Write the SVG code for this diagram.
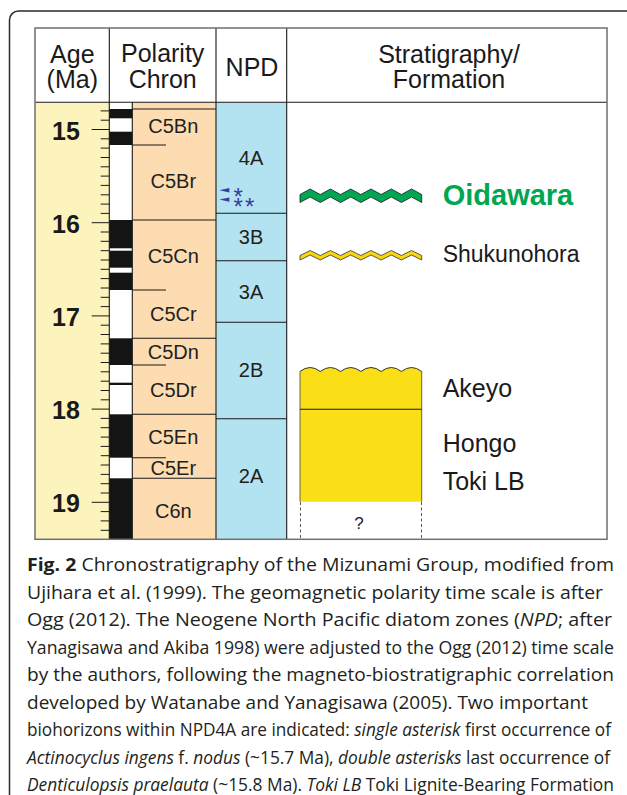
<svg xmlns="http://www.w3.org/2000/svg" width="627" height="795" viewBox="0 0 627 795">
<style>
.hd{font-family:"Liberation Sans",Arial,sans-serif;font-size:25px;fill:#1a1a1a;text-anchor:middle}
.age{font-family:"Liberation Sans",Arial,sans-serif;font-size:25px;font-weight:bold;fill:#1a1a1a;text-anchor:middle}
.lb{font-family:"Liberation Sans",Arial,sans-serif;font-size:20px;fill:#231f20;text-anchor:middle}
.fm{font-family:"Liberation Sans",Arial,sans-serif;font-size:25px;fill:#1a1a1a}
.cap{font-family:"Open Sans","Noto Sans",sans-serif;font-size:18px;fill:#231f20}
.it{font-style:italic}
.ln{stroke:#1a1a1a;stroke-width:1.1;fill:none}
.tk{stroke:#1a1a1a;stroke-width:1}
.blk{fill:#141414}
.ast{font-family:"Liberation Sans",Arial,sans-serif;font-size:24px;fill:#3b3b9e}
</style>
<rect x="9.5" y="11" width="640" height="820" rx="9" fill="none" stroke="#2b2b2b" stroke-width="1.5"/>
<g id="table">
<rect x="35" y="102.3" width="74.3" height="437" fill="#fdf4bd"/>
<rect x="109.3" y="102.3" width="23" height="437" fill="#ffffff"/>
<rect x="132.3" y="102.3" width="83.7" height="437" fill="#fcdcb0"/>
<rect x="216" y="102.3" width="70.7" height="437" fill="#b3e2f1"/>
</g>
<g id="age-scale">
<path class="tk" d="M100.7,110.9H109.3M100.7,120.2H109.3M100.7,138.8H109.3M100.7,148.1H109.3M100.7,157.5H109.3M100.7,166.8H109.3M100.7,176.1H109.3M100.7,185.4H109.3M100.7,194.8H109.3M100.7,204.1H109.3M100.7,213.4H109.3M100.7,232H109.3M100.7,241.3H109.3M100.7,250.7H109.3M100.7,260H109.3M100.7,269.3H109.3M100.7,278.6H109.3M100.7,288H109.3M100.7,297.3H109.3M100.7,306.6H109.3M100.7,325.2H109.3M100.7,334.5H109.3M100.7,343.9H109.3M100.7,353.2H109.3M100.7,362.5H109.3M100.7,371.8H109.3M100.7,381.2H109.3M100.7,390.5H109.3M100.7,399.8H109.3M100.7,418.4H109.3M100.7,427.7H109.3M100.7,437.1H109.3M100.7,446.4H109.3M100.7,455.7H109.3M100.7,465H109.3M100.7,474.4H109.3M100.7,483.7H109.3M100.7,493H109.3M100.7,511.6H109.3M100.7,520.9H109.3M100.7,530.3H109.3"/>
<path class="tk" d="M91.7,129.5H109.3M91.7,222.7H109.3M91.7,315.9H109.3M91.7,409.1H109.3M91.7,502.3H109.3"/>
<text class="age" x="66" y="140">15</text>
<text class="age" x="66" y="233">16</text>
<text class="age" x="66" y="326">17</text>
<text class="age" x="66" y="419">18</text>
<text class="age" x="66" y="512">19</text>
</g>
<g id="polarity">
<rect class="blk" x="109.3" y="109" width="23" height="9.3"/>
<rect class="blk" x="109.3" y="131.7" width="23" height="13.3"/>
<rect class="blk" x="109.3" y="220" width="23" height="28.3"/>
<rect class="blk" x="109.3" y="250.7" width="23" height="17"/>
<rect class="blk" x="109.3" y="272.7" width="23" height="17.3"/>
<rect class="blk" x="109.3" y="338.3" width="23" height="26.7"/>
<rect class="blk" x="109.3" y="382.7" width="23" height="2.3"/>
<rect class="blk" x="109.3" y="414.3" width="23" height="43.4"/>
<rect class="blk" x="109.3" y="478.3" width="23" height="61"/>
<path class="ln" d="M132.3,109H216M132.3,220H216M132.3,338.3H216M132.3,414.3H216M132.3,478.3H216M132.3,145H166M132.3,290H166M132.3,365H166M132.3,457.7H166"/>
<text class="lb" x="173.3" y="132.7">C5Bn</text>
<text class="lb" x="173.3" y="188.3">C5Br</text>
<text class="lb" x="173.3" y="263.3">C5Cn</text>
<text class="lb" x="173.3" y="320.7">C5Cr</text>
<text class="lb" x="173.3" y="358.7">C5Dn</text>
<text class="lb" x="173.3" y="396.7">C5Dr</text>
<text class="lb" x="173.3" y="444.3">C5En</text>
<text class="lb" x="173.3" y="475.3">C5Er</text>
<text class="lb" x="173.3" y="517.7">C6n</text>
</g>
<g id="npd">
<path class="ln" d="M216,213.3H286.7M216,260.7H286.7M216,322.3H286.7M216,418.7H286.7"/>
<text class="lb" x="251" y="165">4A</text>
<text class="lb" x="251" y="244.3">3B</text>
<text class="lb" x="251" y="299.3">3A</text>
<text class="lb" x="251" y="376.7">2B</text>
<text class="lb" x="251" y="483.3">2A</text>
<polygon points="219.5,190.3 229.3,188.1 229.3,192.5" fill="#3b3b9e"/>
<polygon points="219.5,199.6 229.3,197.4 229.3,201.8" fill="#3b3b9e"/>
<text class="ast" x="233.5" y="204.5">*</text>
<text class="ast" x="233.5" y="214.5" letter-spacing="2.2">**</text>
</g>
<g id="grid">
<path class="ln" d="M35,102.3H607M109.3,28V539.3M132.3,102.3V539.3M216,28V539.3M286.7,28V539.3"/>
<rect x="35" y="28" width="572" height="511.3" fill="none" stroke="#6f6f6f" stroke-width="1.5"/>
</g>
<g id="headers">
<text class="hd" x="72.3" y="62.7">Age</text>
<text class="hd" x="72.3" y="88.3">(Ma)</text>
<text class="hd" x="162.7" y="61.7">Polarity</text>
<text class="hd" x="162.7" y="88.3">Chron</text>
<text class="hd" x="252" y="75.7">NPD</text>
<text class="hd" x="449" y="62.7">Stratigraphy/</text>
<text class="hd" x="449" y="88.3">Formation</text>
</g>
<g id="oidawara">
<polygon points="300,194.5 310.14,189 320.28,194.5 330.42,189 340.57,194.5 350.71,189 360.85,194.5 370.99,189 381.13,194.5 391.27,189 401.42,194.5 411.56,189 421.7,194.5 421.7,202.5 411.56,197 401.42,202.5 391.27,197 381.13,202.5 370.99,197 360.85,202.5 350.71,197 340.57,202.5 330.42,197 320.28,202.5 310.14,197 300,202.5" fill="#00a651" stroke="#1a1a1a" stroke-width="0.8"/>
<text x="442.7" y="205" font-family="Liberation Sans, Arial, sans-serif" font-size="29" font-weight="bold" fill="#00a651">Oidawara</text>
</g>
<g id="shukunohora">
<polygon points="300,255.5 310.14,250.5 320.28,255.5 330.42,250.5 340.57,255.5 350.71,250.5 360.85,255.5 370.99,250.5 381.13,255.5 391.27,250.5 401.42,255.5 411.56,250.5 421.7,255.5 421.7,260 411.56,255 401.42,260 391.27,255 381.13,260 370.99,255 360.85,260 350.71,255 340.57,260 330.42,255 320.28,260 310.14,255 300,260" fill="#f7d70f" stroke="#333" stroke-width="0.8"/>
<text x="442.7" y="262.3" font-family="Liberation Sans, Arial, sans-serif" font-size="23" fill="#1a1a1a">Shukunohora</text>
</g>
<g id="mizunami-block">
<path d="M300,371.5 Q310.14,363.5 320.28,371.5 Q330.42,363.5 340.57,371.5 Q350.71,363.5 360.85,371.5 Q370.99,363.5 381.13,371.5 Q391.27,363.5 401.42,371.5 Q411.56,363.5 421.7,371.5 L421.7,501.7 L300,501.7 Z" fill="#fbdf16"/>
<path d="M300,371.5 Q310.14,363.5 320.28,371.5 Q330.42,363.5 340.57,371.5 Q350.71,363.5 360.85,371.5 Q370.99,363.5 381.13,371.5 Q391.27,363.5 401.42,371.5 Q411.56,363.5 421.7,371.5" fill="none" stroke="#333" stroke-width="1"/>
<path d="M300,371.5V501.7M421.7,371.5V501.7" stroke="#555" stroke-width="0.9"/>
<path d="M300,409.3H421.7" stroke="#1a1a1a" stroke-width="1.1"/>
<path d="M300.5,502V539M421.5,502V539" stroke="#444" stroke-width="0.9" stroke-dasharray="3,2.5"/>
<text x="359" y="529.3" font-family="Liberation Sans, Arial, sans-serif" font-size="17" fill="#1a1a1a" text-anchor="middle">?</text>
<text class="fm" x="442.7" y="396.7">Akeyo</text>
<text class="fm" x="442.7" y="451.7">Hongo</text>
<text class="fm" x="442.7" y="490">Toki LB</text>
</g>
<g id="caption">
<text class="cap" x="27" y="571" textLength="587" lengthAdjust="spacingAndGlyphs"><tspan font-weight="bold">Fig. 2</tspan> Chronostratigraphy of the Mizunami Group, modified from</text>
<text class="cap" x="27" y="598.5" textLength="576" lengthAdjust="spacingAndGlyphs">Ujihara et al. (1999). The geomagnetic polarity time scale is after</text>
<text class="cap" x="27" y="626" textLength="585" lengthAdjust="spacingAndGlyphs">Ogg (2012). The Neogene North Pacific diatom zones (<tspan class="it">NPD</tspan>; after</text>
<text class="cap" x="27" y="653.5" textLength="587" lengthAdjust="spacingAndGlyphs">Yanagisawa and Akiba 1998) were adjusted to the Ogg (2012) time scale</text>
<text class="cap" x="27" y="681" textLength="587" lengthAdjust="spacingAndGlyphs">by the authors, following the magneto-biostratigraphic correlation</text>
<text class="cap" x="27" y="708.5" textLength="561" lengthAdjust="spacingAndGlyphs">developed by Watanabe and Yanagisawa (2005). Two important</text>
<text class="cap" x="27" y="736" textLength="584" lengthAdjust="spacingAndGlyphs">biohorizons within NPD4A are indicated: <tspan class="it">single asterisk</tspan> first occurrence of</text>
<text class="cap" x="27" y="763.5" textLength="583" lengthAdjust="spacingAndGlyphs"><tspan class="it">Actinocyclus ingens</tspan> f. <tspan class="it">nodus</tspan> (~15.7 Ma), <tspan class="it">double asterisks</tspan> last occurrence of</text>
<text class="cap" x="27" y="790.5" textLength="587" lengthAdjust="spacingAndGlyphs"><tspan class="it">Denticulopsis praelauta</tspan> (~15.8 Ma). <tspan class="it">Toki LB</tspan> Toki Lignite-Bearing Formation</text>
</g>
</svg>
